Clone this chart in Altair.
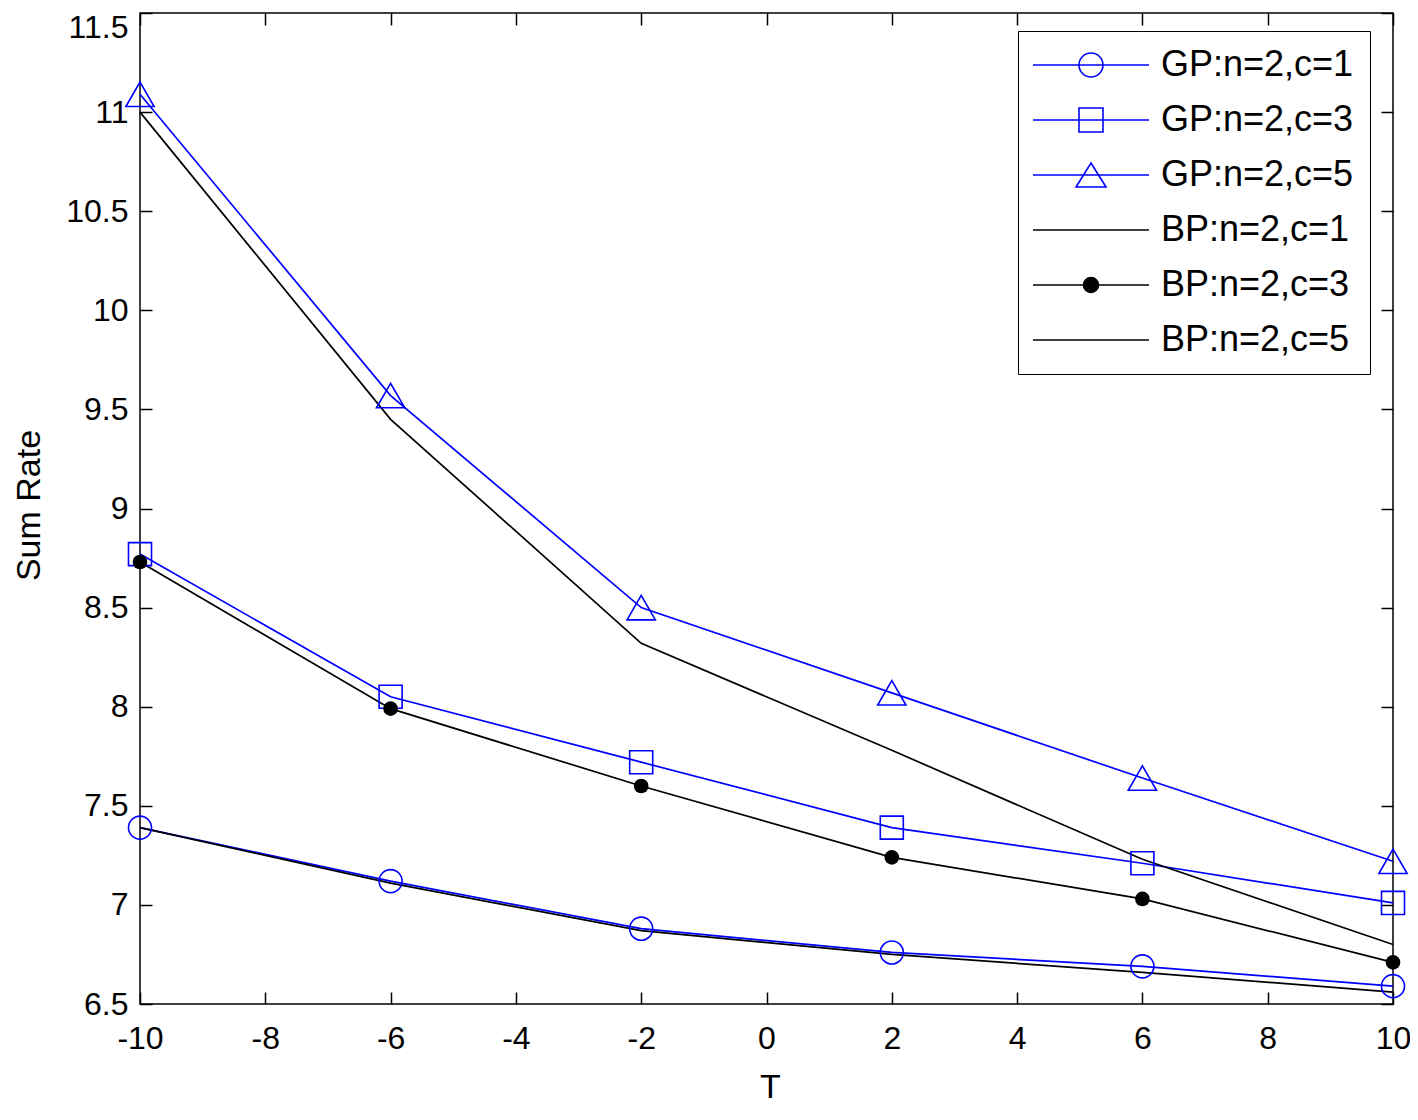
import altair as alt
import pandas as pd

# ---------------- data ----------------
T_VALUES = [-10, -6, -2, 2, 6, 10]
SERIES = ["GP:n=2,c=1", "GP:n=2,c=3", "GP:n=2,c=5",
          "BP:n=2,c=1", "BP:n=2,c=3", "BP:n=2,c=5"]
GP_C1 = [7.39, 7.12, 6.88, 6.76, 6.69, 6.59]
GP_C3 = [8.77, 8.05, 7.72, 7.39, 7.21, 7.01]
GP_C5 = [11.09, 9.57, 8.50, 8.07, 7.64, 7.22]
BP_C1 = [7.39, 7.11, 6.87, 6.75, 6.66, 6.56]
BP_C3 = [8.73, 7.99, 7.60, 7.24, 7.03, 6.71]
BP_C5 = [11.00, 9.45, 8.32, 7.78, 7.23, 6.80]
X_TICKS = [-10, -8, -6, -4, -2, 0, 2, 4, 6, 8, 10]
Y_TICKS = [6.5, 7, 7.5, 8, 8.5, 9, 9.5, 10, 10.5, 11, 11.5]
X_DOMAIN = [-10, 10]
Y_DOMAIN = [6.5, 11.5]

COLORS = ["#0000ff", "#0000ff", "#0000ff", "#000000", "#000000", "#000000"]

rows = []
for name, vals in zip(SERIES, [GP_C1, GP_C3, GP_C5, BP_C1, BP_C3, BP_C5]):
    for t, v in zip(T_VALUES, vals):
        rows.append({"T": t, "rate": v, "series": name})
df = pd.DataFrame(rows)

FONT = "Liberation Sans"
W, H = 1253, 991

# legend symbols: line + marker (path units are pixels with symbolSize=4)
LINE = "M-58,0H58"
CIRC = "M-12,0A12,12 0 1,0 12,0A12,12 0 1,0 -12,0Z"
SQR = "M-12,-12H12V12H-12Z"
TRI = "M0,-12L15,12H-15Z"
DOT = "M-7.5,0A7.5,7.5 0 1,0 7.5,0A7.5,7.5 0 1,0 -7.5,0Z"
shape_expr = (
    f"datum.value === '{SERIES[0]}' ? '{LINE}{CIRC}' : "
    f"datum.value === '{SERIES[1]}' ? '{LINE}{SQR}' : "
    f"datum.value === '{SERIES[2]}' ? '{LINE}{TRI}' : "
    f"datum.value === '{SERIES[4]}' ? '{LINE}{DOT}' : '{LINE}'"
)
fill_expr = f"datum.value === '{SERIES[4]}' ? 'black' : 'transparent'"

xscale = alt.Scale(domain=X_DOMAIN, nice=False, zero=False)
yscale = alt.Scale(domain=Y_DOMAIN, nice=False, zero=False)


def tick_axis(orient, values, offset):
    return alt.Axis(orient=orient, values=values, offset=offset, labels=False,
                    ticks=True, tickSize=12, domain=False, grid=False, title=None)


x_main = alt.Axis(orient="bottom", values=X_TICKS, labelExpr="datum.value + ''",
                  ticks=False, domain=False, grid=False, labelFlush=False,
                  labelOverlap=False, labelPadding=19, labelFontSize=32,
                  title="T", titleFontSize=34, titleX=630, titleY=93,
                  titleBaseline="alphabetic", titleAlign="center")
y_main = alt.Axis(orient="left", values=Y_TICKS, labelExpr="datum.value + ''",
                  ticks=False, domain=False, grid=False, labelOverlap=False,
                  labelPadding=12, labelFontSize=32,
                  labelOffset={"condition": {"test": "datum.value == 11.5", "value": 14},
                               "value": 0},
                  title="Sum Rate", titleFontSize=34, titleX=-101, titleY=492,
                  titleAngle=270, titleBaseline="alphabetic", titleAlign="center")

legend = alt.Legend(
    title=None, orient="none", legendX=878, legendY=18, padding=16,
    rowPadding=19, labelFont=FONT, labelFontSize=36, labelColor="black",
    labelLimit=500, symbolType={"expr": shape_expr}, symbolSize=4,
    symbolStrokeWidth=1.6, symbolFillColor={"expr": fill_expr},
    symbolOffset=39, labelOffset=52, strokeColor="black", fillColor="white",
    cornerRadius=0,
)

base = alt.Chart(df)

lines = base.mark_line(strokeWidth=1.7).encode(
    x=alt.X("T:Q", scale=xscale, axis=x_main),
    y=alt.Y("rate:Q", scale=yscale, axis=y_main),
    stroke=alt.Stroke("series:N", scale=alt.Scale(domain=SERIES, range=COLORS),
                      legend=legend),
)

circles = base.mark_point(shape="circle", filled=False, color="#0000ff", size=530,
                          strokeWidth=1.6, opacity=1).encode(
    x=alt.X("T:Q", scale=xscale, axis=tick_axis("top", X_TICKS, -H)),
    y=alt.Y("rate:Q", scale=yscale, axis=tick_axis("right", Y_TICKS, -W)),
).transform_filter(alt.datum.series == SERIES[0])

squares = base.mark_point(shape="square", filled=False, color="#0000ff", size=530,
                          strokeWidth=1.6, opacity=1).encode(
    x=alt.X("T:Q", scale=xscale, axis=tick_axis("bottom", X_TICKS, -H)),
    y=alt.Y("rate:Q", scale=yscale, axis=tick_axis("left", Y_TICKS, -W)),
).transform_filter(alt.datum.series == SERIES[1])

triangles = base.mark_point(shape="triangle-up", filled=False, color="#0000ff",
                            size=800, strokeWidth=1.6, opacity=1).encode(
    x=alt.X("T:Q", scale=xscale, axis=None),
    y=alt.Y("rate:Q", scale=yscale, axis=None),
).transform_filter(alt.datum.series == SERIES[2])

dots = base.mark_point(shape="circle", filled=True, color="#000000", size=215,
                       opacity=1).encode(
    x=alt.X("T:Q", scale=xscale, axis=None),
    y=alt.Y("rate:Q", scale=yscale, axis=None),
).transform_filter(alt.datum.series == SERIES[4])

chart = alt.layer(lines, circles, squares, triangles, dots).resolve_axis(
    x="independent", y="independent"
).properties(
    width=W, height=H,
    autosize=alt.AutoSizeParams(type="none"),
    padding={"left": 132, "top": 5, "right": 17, "bottom": 102},
    background="white",
).configure_view(
    stroke="black", strokeWidth=1.5
).configure_axis(
    labelFont=FONT, titleFont=FONT, labelColor="black", titleColor="black",
    titleFontWeight="normal", tickColor="black", tickWidth=1.5,
)

chart.save("out.html", embed_options={"renderer": "svg", "actions": False})
